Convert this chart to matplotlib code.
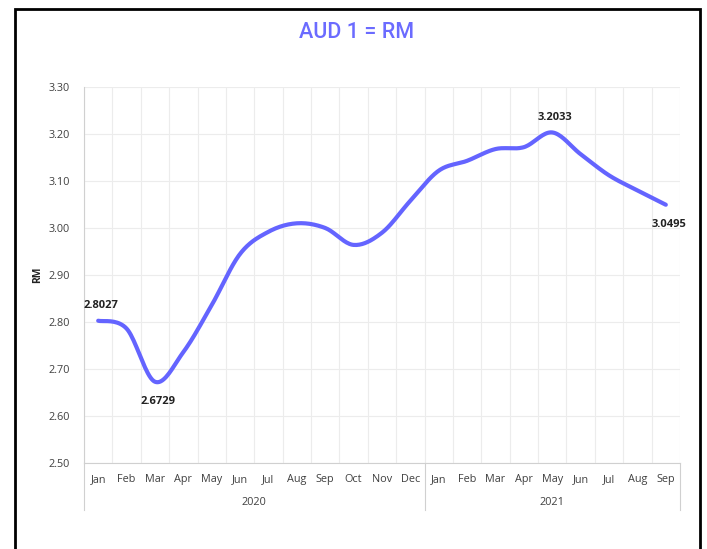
import numpy as np
import matplotlib
matplotlib.use("Agg")
import matplotlib.pyplot as plt
import matplotlib.transforms as mtransforms
from matplotlib.patches import Rectangle

months = ["Jan", "Feb", "Mar", "Apr", "May", "Jun", "Jul", "Aug", "Sep", "Oct", "Nov", "Dec",
          "Jan", "Feb", "Mar", "Apr", "May", "Jun", "Jul", "Aug", "Sep"]
years = ["2020", "2021"]
year_sizes = [12, 9]
rates = [2.8027, 2.786, 2.6729, 2.736, 2.836, 2.945, 2.992, 3.010, 3.000, 2.964, 2.990, 3.058,
         3.122, 3.143, 3.168, 3.172, 3.2033, 3.157, 3.112, 3.080, 3.0495]
labelled = {0: "above", 2: "below", 16: "above", 20: "below"}

LINE = "#6464FF"
TEXT = "#404040"
GRID = "#ececec"


def smooth(x, y, n=20):
    # Excel style smoothing: bezier through points, control points from neighbours (Catmull-Rom)
    x = np.asarray(x, float)
    y = np.asarray(y, float)
    px = np.concatenate([[x[0]], x, [x[-1]]])
    py = np.concatenate([[y[0]], y, [y[-1]]])
    xs, ys = [], []
    t = np.linspace(0, 1, n, endpoint=False)
    for i in range(1, len(px) - 2):
        p0 = np.array([px[i], py[i]])
        p3 = np.array([px[i + 1], py[i + 1]])
        c1 = p0 + (p3 - np.array([px[i - 1], py[i - 1]])) / 6
        c2 = p3 - (np.array([px[i + 2], py[i + 2]]) - p0) / 6
        b = ((1 - t) ** 3)[:, None] * p0 + (3 * (1 - t) ** 2 * t)[:, None] * c1 \
            + (3 * (1 - t) * t ** 2)[:, None] * c2 + (t ** 3)[:, None] * p3
        xs.extend(b[:, 0])
        ys.extend(b[:, 1])
    xs.append(x[-1])
    ys.append(y[-1])
    return np.array(xs), np.array(ys)


plt.rcParams["font.family"] = ["Open Sans", "DejaVu Sans"]

fig = plt.figure(figsize=(7.07, 5.49), dpi=100)
ax = fig.add_axes([84 / 707, 1 - 463 / 549, 596 / 707, 376 / 549])

x = np.arange(len(rates))
sx, sy = smooth(x, rates)
ax.plot(sx, sy, color=LINE, lw=3.0, solid_capstyle="round", zorder=3)

for i, pos in labelled.items():
    off = 11 if pos == "above" else -14
    ax.annotate(f"{rates[i]:.4f}", (x[i], rates[i]), xytext=(2, off), textcoords="offset points",
                ha="center", va="center", fontsize=8, fontweight="bold", color="#222222")

ax.set_xlim(-0.5, len(rates) - 0.5)
ax.set_ylim(2.5, 3.3)
ax.set_yticks(np.arange(2.5, 3.31, 0.1))
ax.set_yticklabels([f"{v:.2f}" for v in np.arange(2.5, 3.31, 0.1)])
ax.set_xticks(x)
ax.set_xticklabels(months)
ax.set_xticks(np.arange(-0.5, len(rates), 1), minor=True)
ax.tick_params(axis="both", which="both", length=0, labelsize=7.8, colors=TEXT)
ax.tick_params(axis="x", pad=8)
ax.tick_params(axis="y", pad=10)
ax.grid(True, axis="y", color=GRID, lw=0.8)
ax.grid(True, axis="x", which="minor", color=GRID, lw=0.8)
ax.grid(False, axis="x", which="major")
for s in ["top", "right"]:
    ax.spines[s].set_visible(False)
for s in ["left", "bottom"]:
    ax.spines[s].set_color("#d0d0d0")
    ax.spines[s].set_linewidth(0.8)

ax.set_ylabel("RM", fontsize=7.5, fontweight="bold", color="#222222", labelpad=4)

# two-level category axis: year groups with separators
trans = mtransforms.blended_transform_factory(ax.transData, ax.transAxes)
start = -0.5
bounds = [start]
for yr, n in zip(years, year_sizes):
    ax.text(start + n / 2, -0.105, yr, transform=trans, ha="center", va="center",
            fontsize=7.8, color=TEXT)
    start += n
    bounds.append(start)
for b in bounds:
    ax.plot([b, b], [0, -0.125], transform=trans, color="#d0d0d0", lw=0.8, clip_on=False)

fig.text(0.505, 1 - 33 / 549, "AUD 1 = RM", ha="center", va="center", fontsize=15.5,
         fontweight="medium", color="#6B6BFF", family=["Roboto", "DejaVu Sans"])

fig.patches.append(Rectangle((15 / 707, -0.05), 685 / 707, 1.05 - 9 / 549, transform=fig.transFigure,
                             fill=False, edgecolor="black", lw=2))

fig.savefig("out.png", dpi=100)
